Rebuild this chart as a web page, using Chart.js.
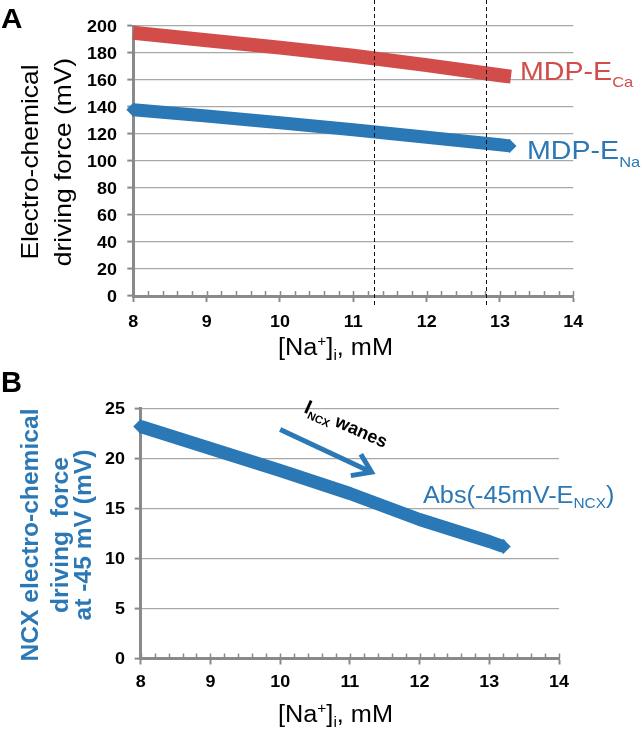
<!DOCTYPE html>
<html lang="en">
<head>
<meta charset="utf-8">
<title>Driving force vs [Na+]i</title>
<script src="https://cdn.jsdelivr.net/npm/chart.js@4.4.0/dist/chart.umd.min.js"></script>
<style>
  * { margin: 0; padding: 0; box-sizing: border-box; }
  body { background: #fff; width: 642px; height: 732px; overflow: hidden; }
  .wrap { position: relative; width: 642px; height: 732px; }
  canvas { position: absolute; left: 0; }
  #chartA { top: 0; }
  #chartB { top: 360px; }
</style>
</head>
<body>
<div class="wrap">
  <canvas id="chartA" width="642" height="360"></canvas>
  <canvas id="chartB" width="642" height="372"></canvas>
</div>
<script>
// ---- data ----
// panel A: MDP - E_Ca (red)
const naCa = [8, 9, 10, 11, 12, 13, 13.15];
const mdpECa = [195, 189.5, 184, 178, 171, 163.5, 162.5];
// panel A: MDP - E_Na (blue)
const naNa = [8, 9, 10, 11, 12, 13, 13.13];
const mdpENa = [138, 133.3, 128.3, 123.2, 117.6, 112, 111.2];
// dashed markers on panel A, [Na+]i in mM
const markerNa = [11.28, 12.81];
// panel B: Abs(-45mV - E_NCX)
const naNcx = [8, 9, 10, 11, 12, 13, 13.2];
const ncxForce = [23.2, 21.0, 18.8, 16.5, 13.9, 11.7, 11.2];
// "I_NCX wanes" arrow, data coords [x, y]
const arrowFrom = [10.0, 22.9];
const arrowTo = [11.35, 18.5];

// axis ranges
const xRange = [8, 14];
const yMaxA = 200, yStepA = 20;
const yMaxB = 25, yStepB = 5;
const minorStep = 0.2;

// colours
const red = "#d24c4a";
const blue = "#2b78b6";
const axisGray = "#8a8a8a";
const gridGray = "#a8a8a8";
const FAM = '"Liberation Sans", Arial, sans-serif';

const pts = (xs, ys) => xs.map((v, i) => ({ x: v, y: ys[i] }));
const endsOnly = (n, r) => Array.from({ length: n }, (_, i) => (i === 0 || i === n - 1 ? r : 0));

// draws a run of text pieces (for sub/superscripts)
function rich(ctx, x, y, parts, opt) {
  ctx.save();
  ctx.translate(x, y);
  if (opt.rot) ctx.rotate(opt.rot);
  ctx.scale(opt.sx || 1, 1);
  ctx.fillStyle = opt.color || "#000";
  ctx.textAlign = "left";
  ctx.textBaseline = "alphabetic";
  let cx = 0;
  if (opt.center || opt.right) {
    let w = 0;
    parts.forEach(p => {
      ctx.font = (p.b ? "bold " : "") + p.s + "px " + FAM;
      w += ctx.measureText(p.t).width;
    });
    cx = opt.center ? -w / 2 : -w;
  }
  parts.forEach(p => {
    ctx.font = (p.b ? "bold " : "") + p.s + "px " + FAM;
    ctx.fillText(p.t, cx, p.dy || 0);
    cx += ctx.measureText(p.t).width;
  });
  ctx.restore();
}

// small tick marks along the x axis
function minorTicks(ctx, chart) {
  const xs = chart.scales.x, a = chart.chartArea;
  ctx.save();
  ctx.strokeStyle = axisGray;
  ctx.lineWidth = 1.5;
  ctx.beginPath();
  for (let v = xs.min; v <= xs.max + 1e-6; v += minorStep) {
    const px = Math.round(xs.getPixelForValue(v)) + 0.5;
    ctx.moveTo(px, a.bottom);
    ctx.lineTo(px, a.bottom - 5);
  }
  ctx.stroke();
  ctx.restore();
}

// tick labels from the scales' own ticks (bold, slightly wide like the original)
function tickLabels(ctx, chart, yRight, xBase) {
  const xs = chart.scales.x, ys = chart.scales.y;
  ys.ticks.forEach(t => {
    rich(ctx, yRight, ys.getPixelForValue(t.value) + 5.8, [{ t: String(t.value), s: 16, b: true }], { sx: 1.12, right: true });
  });
  xs.ticks.forEach(t => {
    rich(ctx, xs.getPixelForValue(t.value), xBase, [{ t: String(t.value), s: 16, b: true }], { sx: 1.12, center: true });
  });
}

function scales(yW, xH, yMax, yStep) {
  return {
    x: {
      type: "linear", min: xRange[0], max: xRange[1],
      afterFit: s => { s.height = xH; },
      ticks: { stepSize: 1, color: "rgba(0,0,0,0)", maxRotation: 0 },
      grid: { drawOnChartArea: false, tickLength: 6, tickColor: axisGray, tickWidth: 2 },
      border: { color: axisGray, width: 3 }
    },
    y: {
      min: 0, max: yMax,
      afterFit: s => { s.width = yW; },
      ticks: { stepSize: yStep, color: "rgba(0,0,0,0)" },
      grid: {
        color: c => (c.tick && c.tick.value === 0 ? "rgba(0,0,0,0)" : gridGray),
        lineWidth: 1.2, tickLength: 6, tickColor: axisGray, tickWidth: 2
      },
      border: { color: axisGray, width: 3 }
    }
  };
}

// ---- panel A ----
const decorA = {
  id: "decorA",
  afterDraw(chart) {
    const ctx = chart.ctx, a = chart.chartArea, xs = chart.scales.x;
    minorTicks(ctx, chart);
    tickLabels(ctx, chart, 117, a.bottom + 31);
    // dashed verticals
    ctx.save();
    ctx.strokeStyle = "#111";
    ctx.lineWidth = 1;
    ctx.setLineDash([4, 3]);
    markerNa.forEach(v => {
      const px = Math.round(xs.getPixelForValue(v)) + 0.5;
      ctx.beginPath();
      ctx.moveTo(px, 0);
      ctx.lineTo(px, a.bottom + 12);
      ctx.stroke();
    });
    ctx.restore();
    rich(ctx, 1, 28, [{ t: "A", s: 27, b: true }], { sx: 1.1 });
    rich(ctx, 38, 162, [{ t: "Electro-chemical", s: 24 }], { rot: -Math.PI / 2, sx: 1.1, center: true });
    rich(ctx, 71, 162, [{ t: "driving force (mV)", s: 24 }], { rot: -Math.PI / 2, sx: 1.1, center: true });
    rich(ctx, 520, 80, [{ t: "MDP-E", s: 26 }, { t: "Ca", s: 15, dy: 7 }], { sx: 1.1, color: red });
    rich(ctx, 527, 159, [{ t: "MDP-E", s: 26 }, { t: "Na", s: 15, dy: 7.5 }], { sx: 1.1, color: blue });
    rich(ctx, 278, 355, [{ t: "[Na", s: 23 }, { t: "+", s: 14, dy: -9 }, { t: "]", s: 23 }, { t: "i", s: 14, dy: 5 }, { t: ", mM", s: 23 }], { sx: 1.1 });
  }
};

new Chart(document.getElementById("chartA"), {
  type: "scatter",
  data: {
    datasets: [
      {
        data: pts(naCa, mdpECa), showLine: true, borderColor: red, backgroundColor: red,
        borderWidth: 14, borderCapStyle: "butt", borderJoinStyle: "round", pointRadius: 0, clip: false
      },
      {
        data: pts(naNa, mdpENa), showLine: true, borderColor: blue, backgroundColor: blue,
        borderWidth: 13, borderCapStyle: "butt", borderJoinStyle: "round",
        pointStyle: "rectRot", pointRadius: endsOnly(naNa.length, 7), pointBorderWidth: 0, clip: false
      }
    ]
  },
  options: {
    responsive: false, animation: false, events: [],
    layout: { padding: { top: 26, right: 68.7, left: 0, bottom: 0 } },
    scales: scales(133.3, 64, yMaxA, yStepA),
    plugins: { legend: { display: false }, tooltip: { enabled: false } }
  },
  plugins: [decorA]
});

// ---- panel B ----
const decorB = {
  id: "decorB",
  afterDraw(chart) {
    const ctx = chart.ctx, a = chart.chartArea, xs = chart.scales.x, ys = chart.scales.y;
    minorTicks(ctx, chart);
    tickLabels(ctx, chart, 125, a.bottom + 28);
    // arrow
    const p0 = { x: xs.getPixelForValue(arrowFrom[0]), y: ys.getPixelForValue(arrowFrom[1]) };
    const p1 = { x: xs.getPixelForValue(arrowTo[0]), y: ys.getPixelForValue(arrowTo[1]) };
    const ang = Math.atan2(p1.y - p0.y, p1.x - p0.x);
    const tip = { x: p1.x - 3 * Math.cos(ang), y: p1.y - 3 * Math.sin(ang) };
    ctx.save();
    ctx.strokeStyle = blue;
    ctx.lineWidth = 5;
    ctx.lineCap = "butt";
    ctx.beginPath();
    ctx.moveTo(p0.x, p0.y);
    ctx.lineTo(tip.x, tip.y);
    ctx.stroke();
    ctx.beginPath();
    ctx.moveTo(tip.x + 21 * Math.cos(ang + Math.PI - 0.6), tip.y + 21 * Math.sin(ang + Math.PI - 0.6));
    ctx.lineTo(tip.x, tip.y);
    ctx.lineTo(tip.x + 21 * Math.cos(ang + Math.PI + 0.6), tip.y + 21 * Math.sin(ang + Math.PI + 0.6));
    ctx.stroke();
    ctx.restore();
    rich(ctx, 303, 52, [{ t: "I", s: 20, b: true }, { t: "NCX", s: 11, b: true, dy: 4 }, { t: " wanes", s: 18, b: true }],
      { rot: 24 * Math.PI / 180 });
    rich(ctx, 1, 32, [{ t: "B", s: 29, b: true }], {});
    const tc = { rot: -Math.PI / 2, sx: 1.07, center: true, color: blue };
    rich(ctx, 38, 175, [{ t: "NCX electro-chemical", s: 23, b: true }], tc);
    rich(ctx, 68, 175, [{ t: "driving  force", s: 23, b: true }], tc);
    rich(ctx, 91, 175, [{ t: "at -45 mV (mV)", s: 23, b: true }], tc);
    rich(ctx, 423, 143, [{ t: "Abs(-45mV-E", s: 23 }, { t: "NCX", s: 14, dy: 5 }, { t: ")", s: 23 }], { sx: 1.1, color: blue });
    rich(ctx, 278, 362, [{ t: "[Na", s: 23 }, { t: "+", s: 14, dy: -9 }, { t: "]", s: 23 }, { t: "i", s: 14, dy: 5 }, { t: ", mM", s: 23 }], { sx: 1.1 });
  }
};

new Chart(document.getElementById("chartB"), {
  type: "scatter",
  data: {
    datasets: [
      {
        data: pts(naNcx, ncxForce), showLine: true, borderColor: blue, backgroundColor: blue,
        borderWidth: 13, borderCapStyle: "butt", borderJoinStyle: "round",
        pointStyle: "rectRot", pointRadius: endsOnly(naNcx.length, 7.5), pointBorderWidth: 0, clip: false
      }
    ]
  },
  options: {
    responsive: false, animation: false, events: [],
    layout: { padding: { top: 48.5, right: 83, left: 0, bottom: 0 } },
    scales: scales(140.7, 73.5, yMaxB, yStepB),
    plugins: { legend: { display: false }, tooltip: { enabled: false } }
  },
  plugins: [decorB]
});
</script>
</body>
</html>
